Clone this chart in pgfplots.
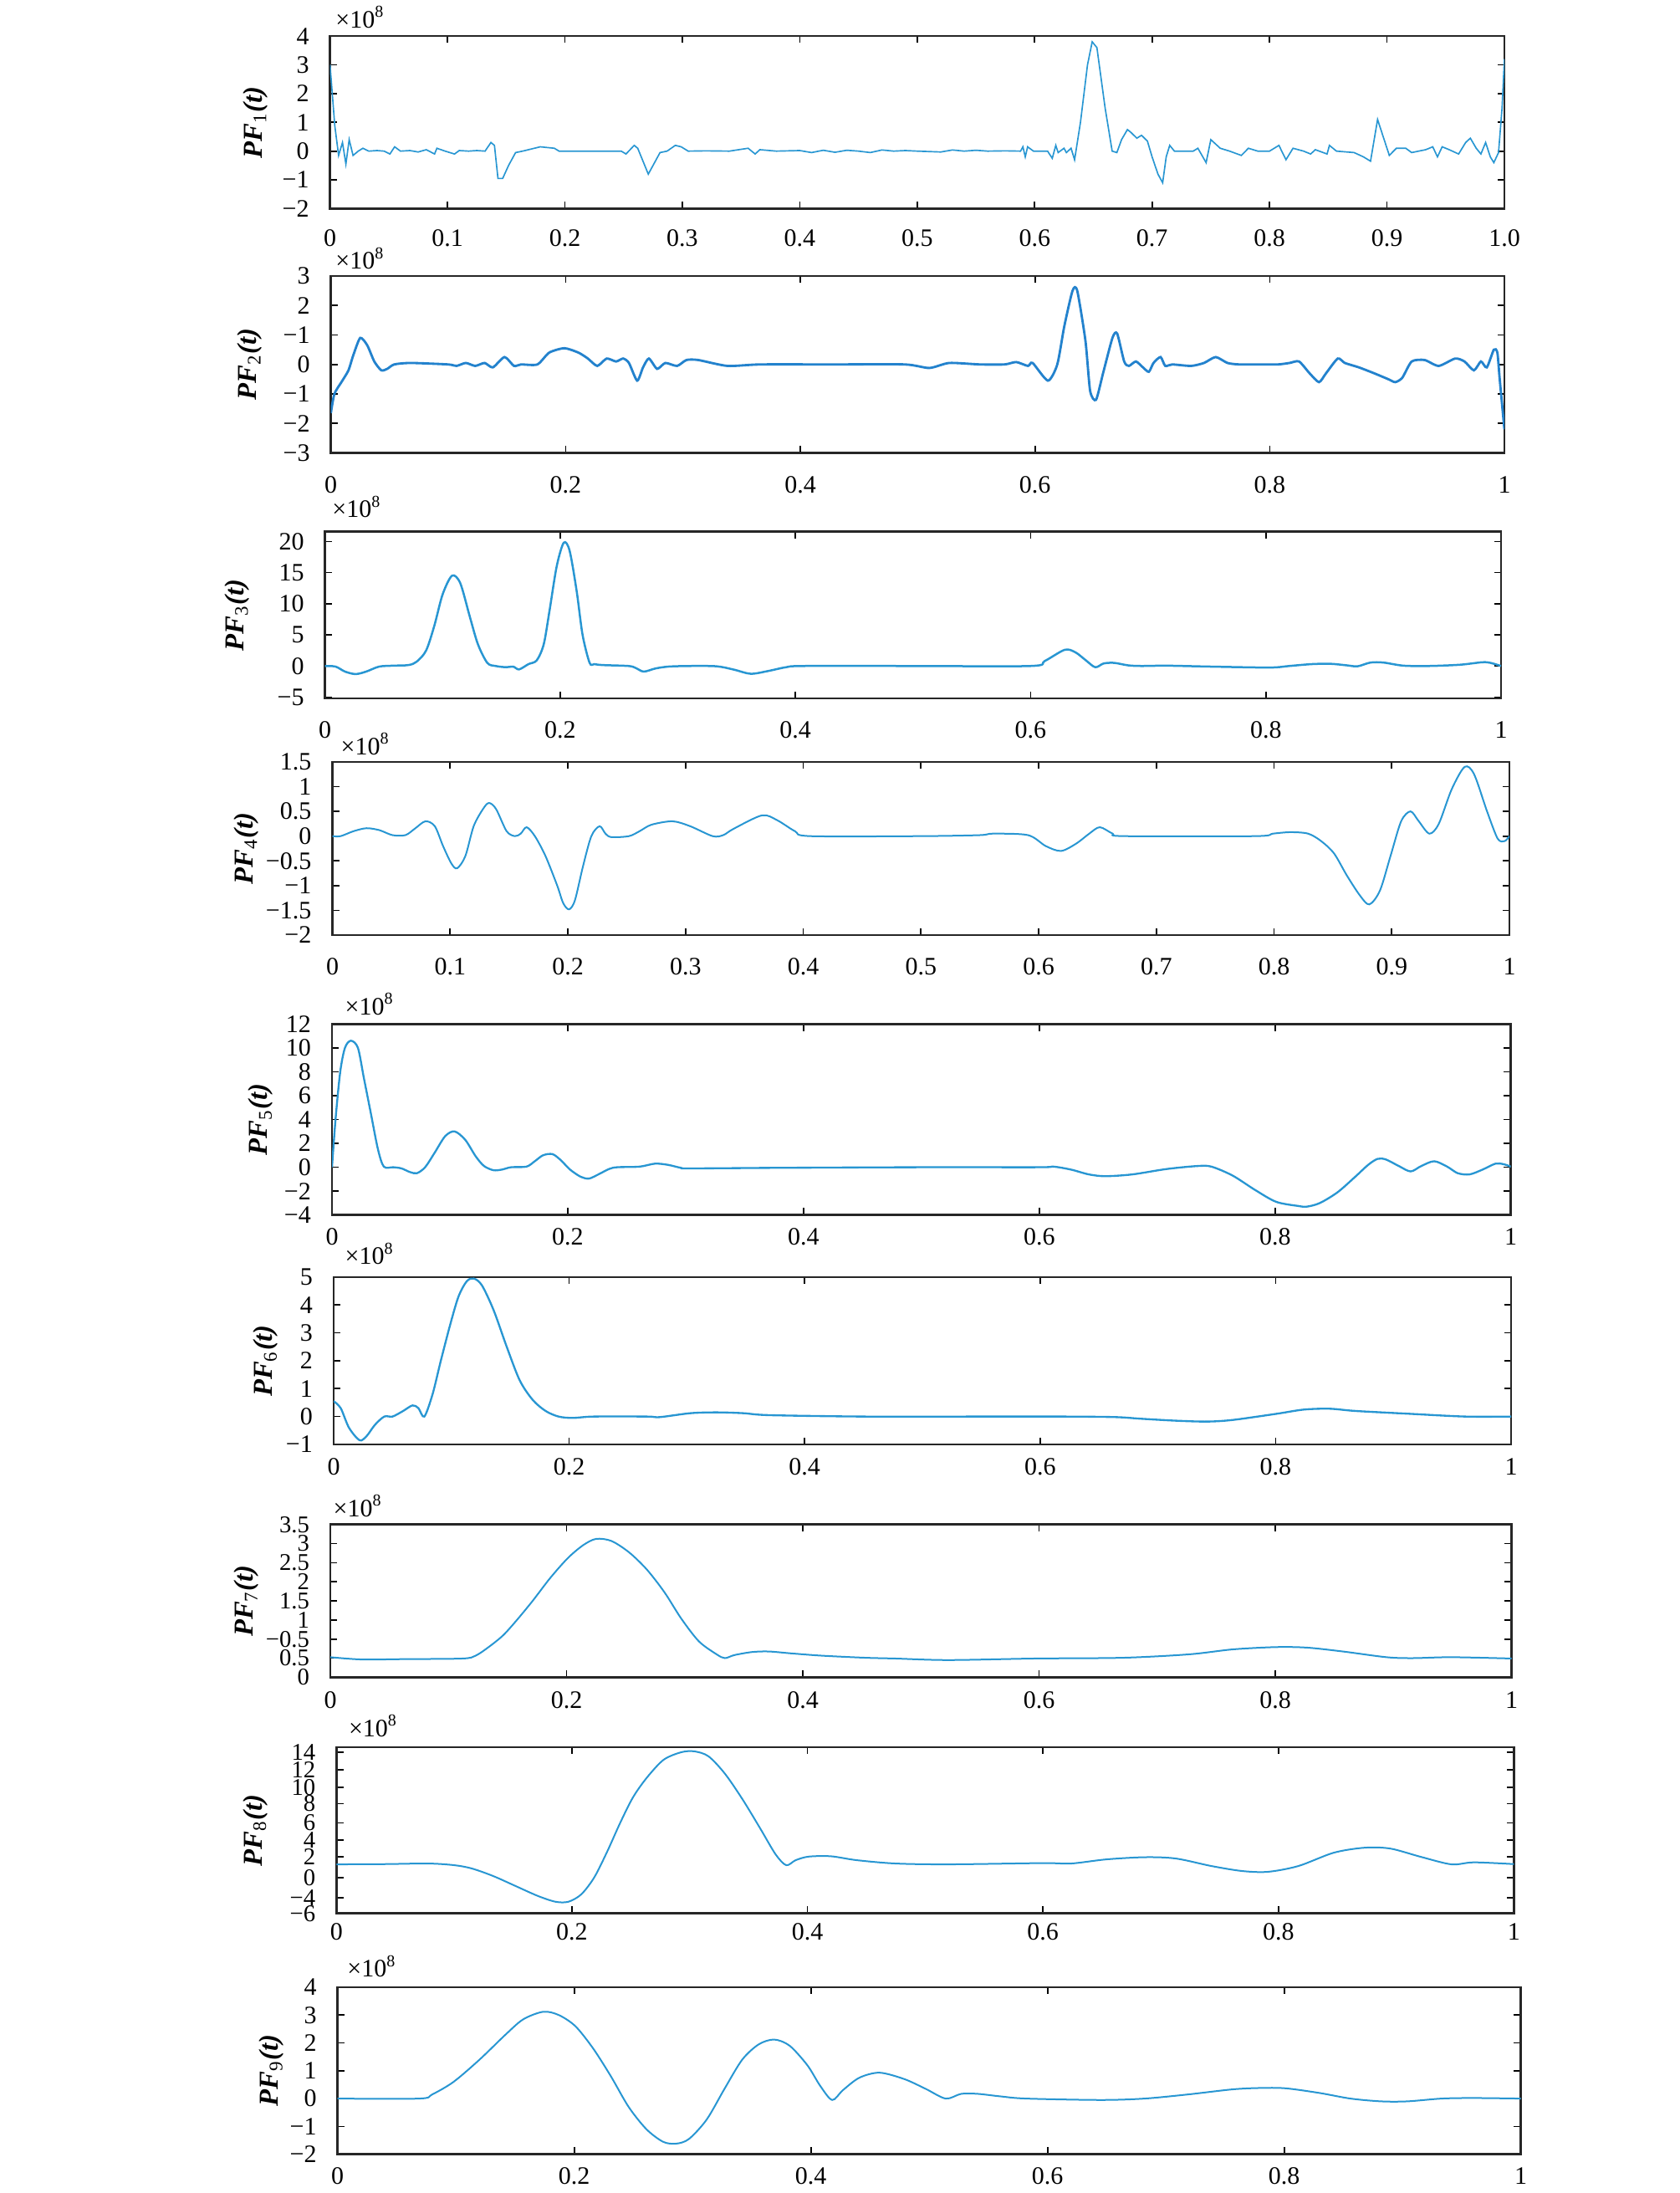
\documentclass[border=0pt]{standalone}
\usepackage{fontspec}
\setmainfont{Liberation Serif}
\usepackage{pgfplots}
\pgfplotsset{compat=1.18}
\definecolor{pfc}{RGB}{40,150,210}
\definecolor{pfd}{RGB}{35,130,205}
\pgfplotsset{
  pfbase/.style={
    scale only axis, xmin=0, xmax=1,
    axis line style={line width=0.8pt, black!85},
    tick style={black, line width=0.5pt},
    major tick length=2.5pt,
    tick align=inside,
    every tick label/.append style={font=\fontsize{9}{10}\selectfont},
    yticklabel style={xshift=-4.0pt},
    ylabel style={anchor=center, font=\fontsize{9.8}{11}\selectfont},
    every axis title/.style={anchor=base west, inner sep=0pt, font=\fontsize{9}{10}\selectfont},
    title={×10\textsuperscript{8}},
  },
  pfline/.style={color=pfc, line width=0.6pt},
  xa/.style={xtick={0,0.2,0.4,0.6,0.8,1}, xticklabels={0,0.2,0.4,0.6,0.8,1}},
  xb/.style={xtick={0,0.1,0.2,0.3,0.4,0.5,0.6,0.7,0.8,0.9,1}},
}
\newcommand{\pfl}[1]{\textbf{\textit{PF}}\textsubscript{#1}\textbf{\textit{(t)}}}
\begin{document}
\begin{tikzpicture}
\useasboundingbox (0,0) rectangle (602.4pt,786.6pt);
% ---------- PF1
\begin{axis}[pfbase, xb, at={(118.4pt,711.75pt)}, anchor=south west, width=421.3pt, height=61.9pt,
  xticklabels={0,0.1,0.2,0.3,0.4,0.5,0.6,0.7,0.8,0.9,1.0},
  xticklabel style={anchor=center, yshift=-10.7pt},
  ymin=-2, ymax=4, ytick={-2,-1,0,1,2,3,4}, yticklabels={−2,−1,0,1,2,3,4},
  ylabel={\pfl{1}}, ylabel style={at={(axis description cs:-0.0634,0.5)}},
  title style={at={(axis description cs:0,1)}, xshift=1.8pt, yshift=3.0pt}]
\addplot[pfline, line width=0.5pt] coordinates {(0,3.0)(0.004,0.9)(0.0073,-0.15)(0.0106,0.3)(0.0135,-0.45)(0.0163,0.4)(0.0196,-0.15)(0.024,0.0)(0.028,0.1)(0.033,0)(0.04,0.02)(0.046,0)(0.051,-0.1)(0.055,0.15)(0.06,0)(0.068,0.02)(0.075,-0.03)(0.082,0.05)(0.089,-0.1)(0.091,0.1)(0.098,0)(0.106,-0.1)(0.11,0.02)(0.118,0)(0.125,0.02)(0.132,0)(0.137,0.3)(0.14,0.2)(0.143,-0.95)(0.147,-0.95)(0.152,-0.5)(0.158,-0.05)(0.164,0)(0.179,0.15)(0.191,0.1)(0.195,0)(0.22,0)(0.248,0)(0.252,-0.1)(0.259,0.2)(0.262,0.1)(0.271,-0.8)(0.275,-0.5)(0.281,-0.05)(0.287,0)(0.294,0.2)(0.299,0.15)(0.305,0)(0.32,0.01)(0.34,0)(0.356,0.1)(0.362,-0.1)(0.366,0.05)(0.38,0)(0.4,0.02)(0.41,-0.05)(0.42,0.03)(0.43,-0.04)(0.44,0.03)(0.45,0)(0.46,-0.05)(0.47,0.04)(0.48,0)(0.49,0.02)(0.5,0)(0.52,-0.03)(0.53,0.04)(0.54,0)(0.55,0.03)(0.56,0)(0.575,0.01)(0.588,0)(0.590,0.15)(0.592,-0.2)(0.594,0.15)(0.599,0)(0.611,0)(0.615,-0.25)(0.618,0.2)(0.620,-0.05)(0.625,0.1)(0.627,-0.05)(0.631,0.1)(0.634,-0.3)(0.639,1.0)(0.645,3.0)(0.649,3.8)(0.653,3.6)(0.660,1.5)(0.666,0.0)(0.670,-0.05)(0.674,0.4)(0.679,0.75)(0.682,0.65)(0.687,0.45)(0.691,0.55)(0.696,0.35)(0.700,-0.2)(0.705,-0.8)(0.709,-1.1)(0.712,-0.2)(0.715,0.2)(0.719,0)(0.735,0)(0.739,0.1)(0.746,-0.4)(0.750,0.4)(0.758,0.1)(0.766,0)(0.776,-0.15)(0.782,0.1)(0.790,0)(0.800,0)(0.808,0.2)(0.814,-0.3)(0.820,0.1)(0.829,0)(0.835,-0.1)(0.839,0.05)(0.849,-0.1)(0.851,0.2)(0.857,0)(0.872,-0.05)(0.880,-0.2)(0.886,-0.35)(0.892,1.1)(0.896,0.6)(0.902,-0.15)(0.908,0.1)(0.916,0.1)(0.921,-0.05)(0.933,0.05)(0.939,0.15)(0.943,-0.2)(0.947,0.15)(0.953,0.05)(0.961,-0.1)(0.967,0.3)(0.971,0.45)(0.976,0.1)(0.980,-0.1)(0.984,0.3)(0.988,-0.2)(0.991,-0.4)(0.995,-0.05)(0.998,1.5)(1.0,3.2)};
\end{axis}
% ---------- PF2
\begin{axis}[pfbase, xa, at={(118.7pt,624.15pt)}, anchor=south west, width=421.0pt, height=63.45pt,
  xticklabel style={anchor=center, yshift=-11.4pt},
  ymin=-3, ymax=3, ytick={-3,-2,-1,0,1,2,3}, yticklabels={−3,−2,−1,0,−1,2,3},
  ylabel={\pfl{2}}, ylabel style={at={(axis description cs:-0.0691,0.5)}},
  title style={at={(axis description cs:0,1)}, xshift=1.5pt, yshift=2.4pt}]
\addplot[color=pfd, line width=0.85pt, smooth, tension=0.4] coordinates {(0,-1.65)(0.003,-1.0)(0.009,-0.6)(0.015,-0.2)(0.019,0.3)(0.025,0.9)(0.031,0.65)(0.037,0.1)(0.043,-0.2)(0.048,-0.15)(0.054,0)(0.068,0.05)(0.1,0)(0.107,-0.05)(0.115,0.05)(0.123,-0.05)(0.131,0.05)(0.138,-0.1)(0.148,0.25)(0.156,-0.05)(0.162,0)(0.176,0)(0.186,0.4)(0.199,0.55)(0.211,0.4)(0.219,0.2)(0.227,-0.05)(0.235,0.2)(0.243,0.1)(0.249,0.2)(0.254,0.05)(0.261,-0.55)(0.266,-0.1)(0.271,0.2)(0.278,-0.15)(0.285,0.05)(0.295,-0.05)(0.303,0.15)(0.313,0.15)(0.338,-0.05)(0.366,0)(0.428,0)(0.489,0)(0.51,-0.12)(0.527,0.05)(0.553,0)(0.574,0)(0.584,0.08)(0.594,-0.05)(0.598,0.05)(0.611,-0.55)(0.619,0)(0.625,1.3)(0.632,2.5)(0.636,2.5)(0.643,0.8)(0.647,-0.9)(0.652,-1.2)(0.658,-0.3)(0.666,0.9)(0.670,1.05)(0.676,0.1)(0.680,-0.05)(0.686,0.1)(0.692,-0.1)(0.697,-0.25)(0.701,0.05)(0.707,0.25)(0.711,-0.05)(0.717,0)(0.733,-0.05)(0.744,0.05)(0.754,0.25)(0.764,0.05)(0.774,0)(0.791,0)(0.807,0)(0.817,0.05)(0.825,0.1)(0.834,-0.3)(0.842,-0.6)(0.848,-0.3)(0.858,0.2)(0.864,0.05)(0.876,-0.1)(0.889,-0.3)(0.901,-0.5)(0.907,-0.6)(0.913,-0.45)(0.921,0.1)(0.932,0.15)(0.944,-0.05)(0.958,0.2)(0.966,0.1)(0.974,-0.2)(0.980,0.1)(0.985,-0.1)(0.991,0.5)(0.994,0.4)(0.996,-0.5)(1.0,-2.2)};
\end{axis}
% ---------- PF3
\begin{axis}[pfbase, xa, at={(116.6pt,536.1pt)}, anchor=south west, width=421.9pt, height=59.85pt,
  xticklabel style={anchor=center, yshift=-11.4pt},
  ymin=-5.2, ymax=21.6, ytick={-5,0,5,10,15,20}, yticklabels={−5,0,5,10,15,20},
  ylabel={\pfl{3}}, ylabel style={at={(axis description cs:-0.0747,0.5)}},
  title style={at={(axis description cs:0,1)}, xshift=2.4pt, yshift=5.0pt}]
\addplot[pfline, line width=0.75pt, smooth] coordinates {(0,0)(0.009,-0.1)(0.017,-0.9)(0.026,-1.3)(0.035,-0.9)(0.046,-0.1)(0.058,0.05)(0.071,0.15)(0.078,0.7)(0.086,2.5)(0.093,6.5)(0.1,11.5)(0.108,14.5)(0.115,13.3)(0.123,8)(0.130,3.5)(0.138,0.5)(0.145,0)(0.154,-0.2)(0.160,-0.1)(0.165,-0.55)(0.173,0.3)(0.180,0.9)(0.186,3.5)(0.191,9)(0.197,16)(0.203,19.8)(0.208,18.5)(0.214,12)(0.219,5)(0.225,0.5)(0.229,0.3)(0.236,0.15)(0.258,0)(0.264,-0.3)(0.271,-0.9)(0.281,-0.4)(0.292,-0.1)(0.310,0)(0.333,-0.05)(0.348,-0.6)(0.362,-1.25)(0.377,-0.8)(0.392,-0.2)(0.407,0)(0.5,0)(0.6,0)(0.612,0.8)(0.629,2.6)(0.638,2.2)(0.647,0.9)(0.655,-0.2)(0.662,0.4)(0.671,0.5)(0.683,0.1)(0.694,0)(0.716,0.05)(0.753,-0.1)(0.803,-0.25)(0.820,0)(0.839,0.3)(0.855,0.35)(0.869,0.1)(0.878,-0.05)(0.889,0.55)(0.900,0.55)(0.917,0.05)(0.939,0)(0.965,0.2)(0.984,0.6)(0.991,0.5)(1.0,0)};
\end{axis}
% ---------- PF4
\begin{axis}[pfbase, xb, at={(119.25pt,451.2pt)}, anchor=south west, width=422.25pt, height=62.1pt,
  xticklabels={0,0.1,0.2,0.3,0.4,0.5,0.6,0.7,0.8,0.9,1},
  xticklabel style={anchor=center, yshift=-11.4pt},
  ymin=-2, ymax=1.5, ytick={-2,-1.5,-1,-0.5,0,0.5,1,1.5}, yticklabels={−2,−1.5,−1,−0.5,0,0.5,1,1.5},
  yticklabel style={inner ysep=0.5pt},
  ylabel={\pfl{4}}, ylabel style={at={(axis description cs:-0.0732,0.5)}},
  title style={at={(axis description cs:0,1)}, xshift=2.85pt, yshift=2.6pt}]
\addplot[pfline, smooth] coordinates {(0,0)(0.007,0)(0.018,0.1)(0.029,0.16)(0.040,0.12)(0.051,0.02)(0.062,0.02)(0.070,0.15)(0.079,0.3)(0.087,0.2)(0.094,-0.2)(0.101,-0.55)(0.106,-0.65)(0.113,-0.4)(0.120,0.2)(0.128,0.55)(0.133,0.67)(0.139,0.55)(0.148,0.1)(0.155,0)(0.160,0.05)(0.165,0.18)(0.172,0)(0.181,-0.4)(0.191,-1.0)(0.196,-1.35)(0.201,-1.48)(0.206,-1.3)(0.213,-0.6)(0.220,0)(0.227,0.2)(0.232,0.05)(0.237,-0.02)(0.252,0)(0.261,0.1)(0.271,0.23)(0.289,0.3)(0.304,0.2)(0.323,0)(0.332,0.02)(0.341,0.15)(0.365,0.42)(0.378,0.32)(0.393,0.1)(0.406,0)(0.5,0)(0.55,0.02)(0.561,0.05)(0.591,0.02)(0.606,-0.2)(0.619,-0.3)(0.632,-0.15)(0.643,0.05)(0.652,0.18)(0.663,0.05)(0.673,0)(0.784,0)(0.799,0.05)(0.814,0.08)(0.829,0.05)(0.840,-0.1)(0.851,-0.35)(0.862,-0.8)(0.873,-1.2)(0.881,-1.38)(0.890,-1.1)(0.899,-0.4)(0.908,0.3)(0.916,0.5)(0.923,0.3)(0.932,0.05)(0.940,0.25)(0.951,0.95)(0.962,1.4)(0.970,1.25)(0.981,0.5)(0.990,-0.05)(0.996,-0.1)(1.0,0)};
\end{axis}
% ---------- PF5
\begin{axis}[pfbase, xa, at={(119.1pt,350.8pt)}, anchor=south west, width=422.9pt, height=68.5pt,
  xticklabel style={anchor=center, yshift=-7.8pt},
  ymin=-4, ymax=12, ytick={-4,-2,0,2,4,6,8,10,12}, yticklabels={−4,−2,0,2,4,6,8,10,12},
  yticklabel style={inner ysep=0.5pt},
  ylabel={\pfl{5}}, ylabel style={at={(axis description cs:-0.0603,0.5)}},
  title style={at={(axis description cs:0,1)}, xshift=4.5pt, yshift=3.2pt}]
\addplot[pfline, line width=0.7pt, smooth] coordinates {(0,0)(0.003,4)(0.007,8)(0.011,10)(0.016,10.6)(0.022,10)(0.027,7.5)(0.033,4.5)(0.039,1.5)(0.044,0.05)(0.052,0)(0.059,-0.1)(0.066,-0.4)(0.072,-0.5)(0.079,0)(0.087,1.2)(0.096,2.6)(0.104,3.0)(0.113,2.3)(0.122,0.9)(0.129,0.1)(0.137,-0.25)(0.144,-0.2)(0.152,0)(0.165,0.05)(0.172,0.5)(0.179,1.0)(0.187,1.1)(0.194,0.6)(0.202,-0.2)(0.211,-0.8)(0.218,-0.95)(0.226,-0.6)(0.235,-0.15)(0.242,0)(0.261,0.05)(0.274,0.3)(0.285,0.2)(0.296,-0.05)(0.304,-0.1)(0.378,-0.05)(0.5,0)(0.6,0)(0.612,0.05)(0.627,-0.2)(0.642,-0.6)(0.656,-0.75)(0.679,-0.6)(0.708,-0.15)(0.734,0.1)(0.746,0.05)(0.764,-0.7)(0.783,-1.9)(0.801,-2.9)(0.820,-3.25)(0.827,-3.3)(0.838,-3.0)(0.853,-2.1)(0.868,-0.8)(0.879,0.2)(0.887,0.7)(0.894,0.65)(0.905,0.1)(0.915,-0.35)(0.924,0.1)(0.935,0.5)(0.946,0.05)(0.955,-0.5)(0.965,-0.6)(0.976,-0.2)(0.987,0.3)(0.994,0.25)(1.0,0.05)};
\end{axis}
% ---------- PF6
\begin{axis}[pfbase, xa, at={(119.7pt,268.5pt)}, anchor=south west, width=422.4pt, height=60pt,
  xticklabel style={anchor=center, yshift=-8.1pt},
  ymin=-1, ymax=5, ytick={-1,0,1,2,3,4,5}, yticklabels={−1,0,1,2,3,4,5},
  ylabel={\pfl{6}}, ylabel style={at={(axis description cs:-0.0575,0.5)}},
  title style={at={(axis description cs:0,1)}, xshift=3.9pt, yshift=4.5pt}]
\addplot[pfline, line width=0.7pt, smooth] coordinates {(0,0.55)(0.006,0.3)(0.013,-0.4)(0.022,-0.85)(0.028,-0.7)(0.035,-0.3)(0.043,0)(0.050,0)(0.059,0.2)(0.067,0.4)(0.072,0.3)(0.077,0)(0.084,0.8)(0.091,2.0)(0.099,3.3)(0.106,4.3)(0.113,4.85)(0.119,4.95)(0.126,4.7)(0.136,3.8)(0.147,2.5)(0.158,1.3)(0.169,0.6)(0.180,0.2)(0.191,0)(0.203,-0.05)(0.221,0)(0.266,0)(0.277,-0.02)(0.303,0.12)(0.325,0.15)(0.348,0.12)(0.370,0.05)(0.45,0)(0.55,0)(0.62,0)(0.664,-0.02)(0.686,-0.08)(0.716,-0.15)(0.742,-0.18)(0.764,-0.12)(0.801,0.1)(0.824,0.25)(0.846,0.28)(0.868,0.2)(0.913,0.1)(0.961,0)(1.0,0)};
\end{axis}
% ---------- PF7
\begin{axis}[pfbase, xa, at={(118.5pt,185.0pt)}, anchor=south west, width=423.8pt, height=54.75pt,
  xticklabel style={anchor=center, yshift=-8.3pt},
  ymin=0, ymax=8, ytick={0,1,2,3,4,5,6,7,8}, yticklabels={0,0.5,−0.5,1,1.5,2,2.5,3,3.5},
  yticklabel style={inner ysep=0pt, font=\fontsize{8.6}{9}\selectfont},
  ylabel={\pfl{7}}, ylabel style={at={(axis description cs:-0.0708,0.5)}},
  title style={at={(axis description cs:0,1)}, xshift=0.9pt, yshift=2.9pt}]
\addplot[pfline, smooth] coordinates {(0,1.05)(0.027,0.93)(0.064,0.95)(0.112,0.98)(0.123,1.13)(0.134,1.58)(0.146,2.18)(0.157,2.93)(0.171,3.98)(0.186,5.19)(0.201,6.24)(0.214,6.92)(0.225,7.25)(0.238,7.14)(0.253,6.54)(0.268,5.64)(0.283,4.44)(0.297,3.08)(0.312,1.88)(0.327,1.2)(0.334,1.0)(0.342,1.16)(0.357,1.32)(0.371,1.35)(0.39,1.25)(0.416,1.13)(0.453,1.02)(0.478,0.98)(0.523,0.9)(0.597,0.98)(0.671,1.02)(0.727,1.2)(0.764,1.46)(0.801,1.58)(0.827,1.55)(0.857,1.35)(0.894,1.05)(0.916,1.0)(0.949,1.05)(1.0,0.98)};
\end{axis}
% ---------- PF8
\begin{axis}[pfbase, xa, at={(120.7pt,100.3pt)}, anchor=south west, width=422.4pt, height=59.6pt,
  xticklabel style={anchor=center, yshift=-6.7pt},
  ymin=-6, ymax=14, ytick={-6.0,-4.1,-1.7,0.8,2.8,4.9,7.2,9.2,11.3,13.4}, yticklabels={−6,−4,0,2,4,6,8,10,12,14},
  yticklabel style={inner ysep=0pt, font=\fontsize{8.6}{9}\selectfont},
  ylabel={\pfl{8}}, ylabel style={at={(axis description cs:-0.0689,0.5)}},
  title style={at={(axis description cs:0,1)}, xshift=4.2pt, yshift=3.8pt}]
\addplot[pfline, smooth] coordinates {(0,-0.1)(0.041,-0.07)(0.078,0)(0.1,-0.2)(0.115,-0.6)(0.133,-1.5)(0.152,-2.7)(0.171,-3.9)(0.186,-4.6)(0.197,-4.6)(0.208,-3.7)(0.219,-1.66)(0.230,1.45)(0.241,4.9)(0.252,8.0)(0.264,10.4)(0.278,12.5)(0.293,13.4)(0.304,13.5)(0.316,12.9)(0.330,10.8)(0.345,7.7)(0.360,4.2)(0.373,1.1)(0.382,-0.2)(0.390,0.4)(0.401,0.83)(0.420,0.87)(0.442,0.4)(0.475,0)(0.520,-0.1)(0.6,0.05)(0.624,0)(0.654,0.5)(0.687,0.76)(0.713,0.6)(0.743,-0.3)(0.769,-0.9)(0.791,-1.0)(0.817,-0.3)(0.847,1.3)(0.873,1.9)(0.895,1.8)(0.921,0.8)(0.947,-0.1)(0.966,0.14)(1.0,-0.07)};
\end{axis}
% ---------- PF9
\begin{axis}[pfbase, xa, at={(121.1pt,13.9pt)}, anchor=south west, width=424.5pt, height=59.9pt,
  xticklabel style={anchor=center, yshift=-7.8pt},
  ymin=-2, ymax=4, ytick={-2,-1,0,1,2,3,4}, yticklabels={−2,−1,0,1,2,3,4},
  ylabel={\pfl{9}}, ylabel style={at={(axis description cs:-0.0558,0.5)}},
  title style={at={(axis description cs:0,1)}, xshift=3.3pt, yshift=3.6pt}]
\addplot[pfline, smooth] coordinates {(0,0)(0.069,0)(0.080,0.15)(0.098,0.6)(0.120,1.4)(0.142,2.3)(0.157,2.85)(0.174,3.12)(0.187,3.0)(0.201,2.6)(0.216,1.8)(0.231,0.8)(0.246,-0.3)(0.261,-1.1)(0.275,-1.55)(0.286,-1.62)(0.297,-1.45)(0.312,-0.75)(0.327,0.35)(0.342,1.4)(0.356,1.95)(0.369,2.12)(0.382,1.9)(0.397,1.2)(0.408,0.45)(0.418,-0.05)(0.427,0.3)(0.441,0.75)(0.458,0.93)(0.479,0.7)(0.497,0.35)(0.514,0)(0.527,0.17)(0.541,0.17)(0.560,0.08)(0.582,0)(0.645,-0.05)(0.682,0)(0.719,0.15)(0.756,0.33)(0.779,0.38)(0.801,0.37)(0.830,0.2)(0.856,0)(0.882,-0.1)(0.904,-0.1)(0.933,0)(0.960,0.02)(1.0,0)};
\end{axis}
\end{tikzpicture}
\end{document}
